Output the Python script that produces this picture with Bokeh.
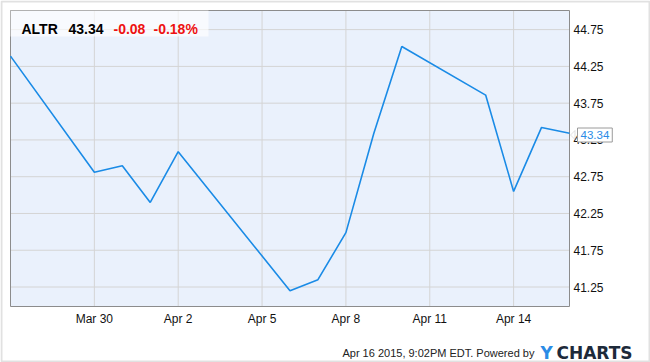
from datetime import datetime
from bokeh.plotting import figure
from bokeh.models import (Range1d, FixedTicker, DatetimeTickFormatter, NumeralTickFormatter,
                          Label, BoxAnnotation, PolyAnnotation)
from bokeh.embed import file_html
from bokeh.resources import INLINE

dates = ["2015-03-27", "2015-03-30", "2015-03-31", "2015-04-01", "2015-04-02",
         "2015-04-06", "2015-04-07", "2015-04-08", "2015-04-09", "2015-04-10",
         "2015-04-13", "2015-04-14", "2015-04-15", "2015-04-16"]
prices = [44.39, 42.81, 42.90, 42.40, 43.09, 41.20, 41.35, 41.99, 43.34, 44.52,
          43.86, 42.55, 43.42, 43.34]
x_tick_dates = ["2015-03-30", "2015-04-02", "2015-04-05", "2015-04-08", "2015-04-11", "2015-04-14"]
y_ticks = [41.25, 41.75, 42.25, 42.75, 43.25, 43.75, 44.25, 44.75]
ticker_symbol = "ALTR"
last_price = "43.34"
change = "-0.08"
change_pct = "-0.18%"
footer = "Apr 16 2015, 9:02PM EDT.  Powered by"
brand_y = "Y"
brand_rest = "CHARTS"

def ms(s):
    return datetime.strptime(s, "%Y-%m-%d").timestamp() * 1000.0

xs = [datetime.strptime(d, "%Y-%m-%d") for d in dates]

# canvas and plot-area geometry (pixels)
W, H = 650, 362
PL, PR, PT, PB = 10, 569, 10, 306
x0, x1 = ms("2015-03-27"), ms("2015-04-16")
y0, y1 = 40.985, 45.01
sx = (PR - PL) / (x1 - x0)
sy = (PB - PT) / (y1 - y0)

p = figure(width=W, height=H, x_axis_type="datetime", y_axis_location="right",
           toolbar_location=None, output_backend="svg",
           min_border_left=0, min_border_right=0, min_border_top=0, min_border_bottom=0)
p.x_range = Range1d(x0 - PL / sx, x1 + (W - PR) / sx)
p.y_range = Range1d(y0 - (H - PB) / sy, y1 + PT / sy)

p.background_fill_color = "white"
p.border_fill_color = "white"
p.outline_line_color = None
p.grid.visible = False

# plot area
p.quad(left=[x0], right=[x1], bottom=[y0], top=[y1], fill_color="#eaf1fc", line_color=None)
xt = [ms(d) for d in x_tick_dates]
p.segment(x0=xt, x1=xt, y0=[y0] * len(xt), y1=[y1] * len(xt), line_color="#d4d4d4", line_width=1)
p.segment(x0=[x0] * len(y_ticks), x1=[x1] * len(y_ticks), y0=y_ticks, y1=y_ticks,
          line_color="#d4d4d4", line_width=1)
p.quad(left=[x0], right=[x1], bottom=[y0], top=[y1], fill_color=None, line_color="#8c8c8c",
       line_width=1)

p.xaxis.ticker = FixedTicker(ticks=xt)
p.xaxis.formatter = DatetimeTickFormatter(days="%b %-d", months="%b %-d")
p.yaxis.ticker = FixedTicker(ticks=y_ticks)
p.yaxis.formatter = NumeralTickFormatter(format="0.00")
p.xaxis.fixed_location = y0
p.yaxis.fixed_location = x1
for ax in (p.xaxis, p.yaxis):
    ax.axis_line_color = None
    ax.major_tick_line_color = None
    ax.minor_tick_line_color = None
    ax.major_tick_out = 0
    ax.major_tick_in = 0
    ax.minor_tick_out = 0
    ax.major_label_text_font = "Liberation Sans"
    ax.major_label_text_font_size = "12px"
    ax.major_label_text_color = "#111111"
p.yaxis.major_label_standoff = 4
p.xaxis.major_label_standoff = 5

p.line(xs, prices, line_color="#1a8be6", line_width=1.6)

# title box
p.add_layout(BoxAnnotation(left=10, right=208, top=10, bottom=36, left_units="canvas",
                           right_units="canvas", top_units="canvas", bottom_units="canvas",
                           fill_color="white", fill_alpha=0.65, line_color=None))

def lab(text, x, y, color="#000000", size="14px", style="bold", font="Liberation Sans",
        baseline="alphabetic", **kw):
    p.add_layout(Label(text=text, x=x, y=y, x_units="canvas", y_units="canvas",
                       text_color=color, text_font=font, text_font_size=size,
                       text_font_style=style, text_baseline=baseline, level="overlay", **kw))

lab(ticker_symbol, 21, 28)
lab(last_price, 68, 28)
lab(change, 113, 28, color="#ee1111")
lab(change_pct, 153, 28, color="#ee1111")

lab(footer, 537, 352, color="#222222", size="11px", style="normal", text_align="right")
lab(brand_y, 540, 352, color="#2a8be6", size="17px", style="bold", font="DejaVu Sans")
lab(brand_rest, 556, 352, color="#1d2a3a", size="17px", style="bold", font="DejaVu Sans")

# last value tag: boxed label + pointer
lab(last_price, 577, 134.5, color="#2a8be6", size="11.5px", style="normal", baseline="middle",
    background_fill_color="white", border_line_color="#9a9a9a", border_line_width=1,
    padding=3)
p.add_layout(PolyAnnotation(xs=[574.5, 570, 574.5], ys=[130, 134.5, 139],
                            xs_units="canvas", ys_units="canvas",
                            fill_color="white", fill_alpha=1.0, line_color="#9a9a9a",
                            line_width=1, level="overlay"))

# outer border
p.add_layout(BoxAnnotation(left=1, right=649, top=1, bottom=361, left_units="canvas",
                           right_units="canvas", top_units="canvas", bottom_units="canvas",
                           fill_color=None, fill_alpha=0, line_color="#9a9a9a", line_width=2,
                           level="overlay"))

open("out.html", "w").write(file_html(p, INLINE))
